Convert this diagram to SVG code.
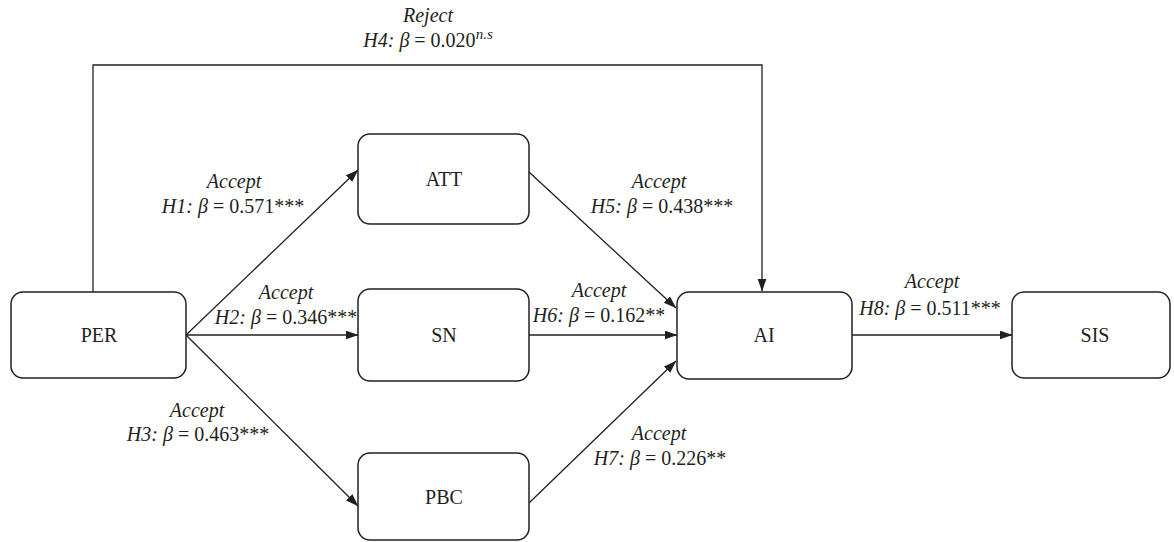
<svg xmlns="http://www.w3.org/2000/svg" width="1174" height="542" viewBox="0 0 1174 542">
  <style>
    .box { fill: #ffffff; stroke: #231f20; stroke-width: 1.5; }
    .node-label { font-family: 'Liberation Serif', 'Times New Roman', serif; font-size: 20px; fill: #231f20; text-anchor: middle; }
    .edge { fill: none; stroke: #231f20; stroke-width: 1.3; }
    .lbl { font-family: 'Liberation Serif', 'Times New Roman', serif; font-size: 20px; fill: #231f20; text-anchor: middle; }
    .i { font-style: italic; }
  </style>
  <defs>
    <marker id="arrow" markerUnits="userSpaceOnUse" markerWidth="13" markerHeight="10" refX="12.5" refY="4.5" orient="auto">
      <path d="M0,0 L13,4.5 L0,9 z" fill="#231f20"/>
    </marker>
  </defs>
  <rect width="1174" height="542" fill="#ffffff"/>

  <g id="connectors">
    <polyline class="edge" points="93,292 93,65 762,65 762,291" marker-end="url(#arrow)"/>
    <line class="edge" x1="186" y1="335" x2="358" y2="170" marker-end="url(#arrow)"/>
    <line class="edge" x1="186" y1="335" x2="358" y2="335" marker-end="url(#arrow)"/>
    <line class="edge" x1="186" y1="335" x2="358" y2="506" marker-end="url(#arrow)"/>
    <line class="edge" x1="529" y1="172" x2="676" y2="308" marker-end="url(#arrow)"/>
    <line class="edge" x1="529" y1="335" x2="677" y2="335" marker-end="url(#arrow)"/>
    <line class="edge" x1="529" y1="503" x2="676" y2="361" marker-end="url(#arrow)"/>
    <line class="edge" x1="852" y1="335" x2="1012" y2="335" marker-end="url(#arrow)"/>
  </g>

  <g id="node-PER">
    <rect class="box" x="11" y="292" width="175" height="86" rx="12" ry="12"/>
    <text class="node-label" x="99" y="342">PER</text>
  </g>
  <g id="node-ATT">
    <rect class="box" x="358" y="134" width="171" height="90" rx="12" ry="12"/>
    <text class="node-label" x="444" y="186">ATT</text>
  </g>
  <g id="node-SN">
    <rect class="box" x="358" y="289" width="171" height="92" rx="12" ry="12"/>
    <text class="node-label" x="444" y="342">SN</text>
  </g>
  <g id="node-PBC">
    <rect class="box" x="358" y="453" width="171" height="87" rx="12" ry="12"/>
    <text class="node-label" x="444" y="504">PBC</text>
  </g>
  <g id="node-AI">
    <rect class="box" x="677" y="292" width="175" height="87" rx="12" ry="12"/>
    <text class="node-label" x="764" y="342">AI</text>
  </g>
  <g id="node-SIS">
    <rect class="box" x="1012" y="292" width="158" height="86" rx="12" ry="12"/>
    <text class="node-label" x="1095" y="342">SIS</text>
  </g>

  <g id="edge-labels">
    <text class="lbl i" x="428" y="22">Reject</text>
    <text class="lbl" x="428" y="47"><tspan class="i">H4:</tspan> <tspan class="i">β</tspan> = 0.020<tspan class="i" font-size="15" dy="-8">n.s</tspan></text>

    <text class="lbl i" x="234" y="188">Accept</text>
    <text class="lbl" x="233" y="213"><tspan class="i">H1:</tspan> <tspan class="i">β</tspan> = 0.571***</text>

    <text class="lbl i" x="286" y="299">Accept</text>
    <text class="lbl" x="286" y="324"><tspan class="i">H2:</tspan> <tspan class="i">β</tspan> = 0.346***</text>

    <text class="lbl i" x="197" y="417">Accept</text>
    <text class="lbl" x="198" y="441"><tspan class="i">H3:</tspan> <tspan class="i">β</tspan> = 0.463***</text>

    <text class="lbl i" x="659" y="188">Accept</text>
    <text class="lbl" x="662" y="213"><tspan class="i">H5:</tspan> <tspan class="i">β</tspan> = 0.438***</text>

    <text class="lbl i" x="599" y="297">Accept</text>
    <text class="lbl" x="599" y="322"><tspan class="i">H6:</tspan> <tspan class="i">β</tspan> = 0.162**</text>

    <text class="lbl i" x="659" y="440">Accept</text>
    <text class="lbl" x="660" y="465"><tspan class="i">H7:</tspan> <tspan class="i">β</tspan> = 0.226**</text>

    <text class="lbl i" x="932" y="288">Accept</text>
    <text class="lbl" x="930" y="315"><tspan class="i">H8:</tspan> <tspan class="i">β</tspan> = 0.511***</text>
  </g>
</svg>
